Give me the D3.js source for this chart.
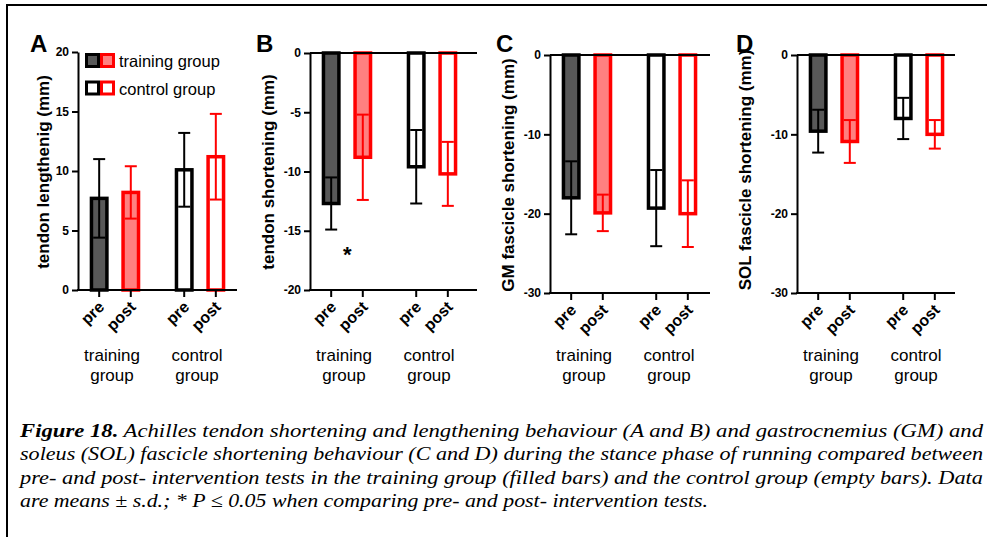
<!DOCTYPE html>
<html>
<head>
<meta charset="utf-8">
<script src="https://cdn.jsdelivr.net/npm/d3@7"></script>
<style>
  html, body { margin: 0; padding: 0; background: #fff; }
  svg { display: block; }
</style>
</head>
<body>
<svg id="chart" width="987" height="537"></svg>
<script>
// ---------------- DATA ----------------
const groups = ["training group", "control group"];
const phases = ["pre", "post"];
const groupLabelLines = [["training", "group"], ["control", "group"]];
const legendLabels = ["training group", "control group"];

// order: training-pre, training-post, control-pre, control-post
const lengtheningMean = [7.7, 8.2, 10.1, 11.2];
const lengtheningSD   = [3.3, 2.2, 3.1, 3.6];
const tendonShortMean = [-12.7, -8.8, -9.6, -10.2];
const tendonShortSD   = [2.2, 3.6, 3.1, 2.7];
const gmShortMean     = [-18.0, -19.9, -19.3, -20.0];
const gmShortSD       = [4.6, 2.3, 4.8, 4.2];
const solShortMean    = [-9.6, -10.9, -8.0, -10.0];
const solShortSD      = [2.7, 2.7, 2.6, 1.8];

const ticksA = [0, 5, 10, 15, 20];
const ticksB = [0, -5, -10, -15, -20];
const ticksC = [0, -10, -20, -30];
const ticksD = [0, -10, -20, -30];

const captionLines = [
  [{t: "Figure 18.", b: true}, {t: " Achilles tendon shortening and lengthening behaviour (A and B) and gastrocnemius (GM) and"}],
  [{t: "soleus (SOL) fascicle shortening behaviour (C and D) during the stance phase of running compared between"}],
  [{t: "pre- and post- intervention tests in the training group (filled bars) and the control group (empty bars). Data"}],
  [{t: "are means \u00b1 s.d.; * P \u2264 0.05 when comparing pre- and post- intervention tests."}]
];

// ---------------- STYLE / LAYOUT ----------------
const fills   = ["#585858", "#ff8080", "#ffffff", "#ffffff"];
const strokes = ["#000000", "#ff0000", "#000000", "#ff0000"];

const panels = [
  {letter: "A", title: "tendon lengthenig (mm)", mean: lengtheningMean, sd: lengtheningSD,
   domain: [0, 20], ticks: ticksA, x0: 78, len: 159, top: 52, bottom: 290,
   titleX: 43, titleY: 172, letterX: 30, legend: true},
  {letter: "B", title: "tendon shortening (mm)", mean: tendonShortMean, sd: tendonShortSD,
   domain: [-20, 0], ticks: ticksB, x0: 310, len: 167, top: 53, bottom: 290,
   titleX: 268, titleY: 172, letterX: 256, star: true},
  {letter: "C", title: "GM fascicle shortening (mm)", mean: gmShortMean, sd: gmShortSD,
   domain: [-30, 0], ticks: ticksC, x0: 550, len: 160, top: 55, bottom: 293,
   titleX: 508, titleY: 175, letterX: 496},
  {letter: "D", title: "SOL fascicle shortening (mm)", mean: solShortMean, sd: solShortSD,
   domain: [-30, 0], ticks: ticksD, x0: 797, len: 158, top: 55, bottom: 293,
   titleX: 745, titleY: 170, letterX: 736}
];

const svg = d3.select("#chart");

// frame
svg.append("path").attr("d", "M7,537 V5 H987")
  .attr("fill", "none").attr("stroke", "#000").attr("stroke-width", 2);

const outer = d3.scaleBand().domain(groups).range([0, 159]).paddingInner(0.13).paddingOuter(0);
const inner = d3.scaleBand().domain(phases).range([0, outer.bandwidth()]).paddingInner(0.4).paddingOuter(0.37);
const barStroke = 3.5;

const items = [];
groups.forEach((g, gi) => phases.forEach((p, pi) => items.push({g, p, gi, pi, i: gi * 2 + pi})));

panels.forEach(P => {
  const g = svg.append("g");
  const y = d3.scaleLinear().domain(P.domain).range([P.bottom, P.top]);
  const cx = d => P.x0 + outer(d.g) + inner(d.p) + inner.bandwidth() / 2;

  // bars
  g.selectAll("rect.bar").data(items).join("rect")
    .attr("class", "bar")
    .attr("x", d => cx(d) - (inner.bandwidth() - barStroke) / 2)
    .attr("width", inner.bandwidth() - barStroke)
    .attr("y", d => Math.min(y(0), y(P.mean[d.i])))
    .attr("height", d => Math.abs(y(P.mean[d.i]) - y(0)))
    .attr("fill", d => fills[d.i])
    .attr("stroke", d => strokes[d.i])
    .attr("stroke-width", barStroke);

  // error bars
  const eb = g.selectAll("g.eb").data(items).join("g").attr("class", "eb")
    .attr("stroke", d => strokes[d.i]).attr("stroke-width", 2).attr("fill", "none");
  eb.append("line")
    .attr("x1", cx).attr("x2", cx)
    .attr("y1", d => y(P.mean[d.i] - P.sd[d.i]))
    .attr("y2", d => y(P.mean[d.i] + P.sd[d.i]));
  [-1, 1].forEach(s => {
    eb.append("line")
      .attr("x1", d => cx(d) - 6).attr("x2", d => cx(d) + 6)
      .attr("y1", d => y(P.mean[d.i] + s * P.sd[d.i]))
      .attr("y2", d => y(P.mean[d.i] + s * P.sd[d.i]));
  });

  // y axis
  const ya = g.append("g").attr("transform", `translate(${P.x0},0)`)
    .call(d3.axisLeft(y).tickValues(P.ticks).tickFormat(d => String(d)).tickSize(6).tickSizeOuter(0).tickPadding(3));
  ya.select(".domain").attr("stroke-width", 2);
  ya.selectAll(".tick line").attr("stroke-width", 2);
  ya.selectAll(".tick text").attr("font-family", "Arial, 'Liberation Sans', sans-serif")
    .attr("font-size", 12).attr("font-weight", "bold").attr("fill", "#000");

  // x axis at bottom
  g.append("line").attr("x1", P.x0 - 1).attr("x2", P.x0 + P.len)
    .attr("y1", P.bottom).attr("y2", P.bottom).attr("stroke", "#000").attr("stroke-width", 2);
  g.selectAll("line.xt").data(items).join("line").attr("class", "xt")
    .attr("x1", cx).attr("x2", cx).attr("y1", P.bottom).attr("y2", P.bottom + 7)
    .attr("stroke", "#000").attr("stroke-width", 2);
  // zero line at top for negative panels
  if (P.domain[1] === 0) {
    g.append("line").attr("x1", P.x0).attr("x2", P.x0 + P.len)
      .attr("y1", y(0)).attr("y2", y(0)).attr("stroke", "#000").attr("stroke-width", 2);
  }

  // phase labels
  g.selectAll("text.ph").data(items).join("text").attr("class", "ph")
    .attr("transform", d => `translate(${cx(d) + 6},${P.bottom + 18}) rotate(-45)`)
    .attr("text-anchor", "end")
    .attr("font-family", "Arial, 'Liberation Sans', sans-serif")
    .attr("font-size", 16).attr("font-weight", "bold")
    .text(d => d.p);

  // group labels
  groups.forEach((gr, gi) => {
    const gx = P.x0 + outer(gr) + outer.bandwidth() / 2 - 3;
    groupLabelLines[gi].forEach((ln, li) => {
      g.append("text").attr("x", gx).attr("y", 361 + li * 20)
        .attr("text-anchor", "middle")
        .attr("font-family", "Arial, 'Liberation Sans', sans-serif")
        .attr("font-size", 17).text(ln);
    });
  });

  // y title
  g.append("text")
    .attr("transform", `translate(${P.titleX},${P.titleY}) rotate(-90)`)
    .attr("text-anchor", "middle").attr("dominant-baseline", "central")
    .attr("font-family", "Arial, 'Liberation Sans', sans-serif")
    .attr("font-size", 17).attr("font-weight", "bold")
    .text(P.title);

  // panel letter
  g.append("text").attr("x", P.letterX).attr("y", 52)
    .attr("font-family", "Arial, 'Liberation Sans', sans-serif")
    .attr("font-size", 24).attr("font-weight", "bold").text(P.letter);

  if (P.star) {
    const d0 = items[0];
    g.append("text").attr("x", cx(d0) + 16).attr("y", y(-16.6) + 12)
      .attr("text-anchor", "middle")
      .attr("font-family", "Arial, 'Liberation Sans', sans-serif")
      .attr("font-size", 22).attr("font-weight", "bold").text("*");
  }

  if (P.legend) {
    legendLabels.forEach((lab, li) => {
      const ly = 54.5 + li * 27.5;
      [0, 1].forEach(k => {
        const idx = li * 2 + k;
        g.append("rect").attr("x", 86.5 + k * 15).attr("y", ly).attr("width", 12).attr("height", 12)
          .attr("fill", fills[idx]).attr("stroke", strokes[idx]).attr("stroke-width", 3);
      });
      g.append("text").attr("x", 119).attr("y", ly + 6.5).attr("dominant-baseline", "central")
        .attr("font-family", "Arial, 'Liberation Sans', sans-serif")
        .attr("font-size", 16.5).text(lab);
    });
  }
});

// caption
const capW = [963, 963, 963, 688];
captionLines.forEach((line, li) => {
  const t = svg.append("text").attr("x", 20).attr("y", 437 + li * 23.3)
    .attr("font-family", "'Liberation Serif', 'Times New Roman', serif")
    .attr("font-style", "italic").attr("font-size", 19);
  line.forEach(seg => {
    t.append("tspan").attr("font-weight", seg.b ? "bold" : "normal").text(seg.t);
  });
  if (capW[li]) t.attr("textLength", capW[li]).attr("lengthAdjust", "spacingAndGlyphs");
});
</script>
</body>
</html>
